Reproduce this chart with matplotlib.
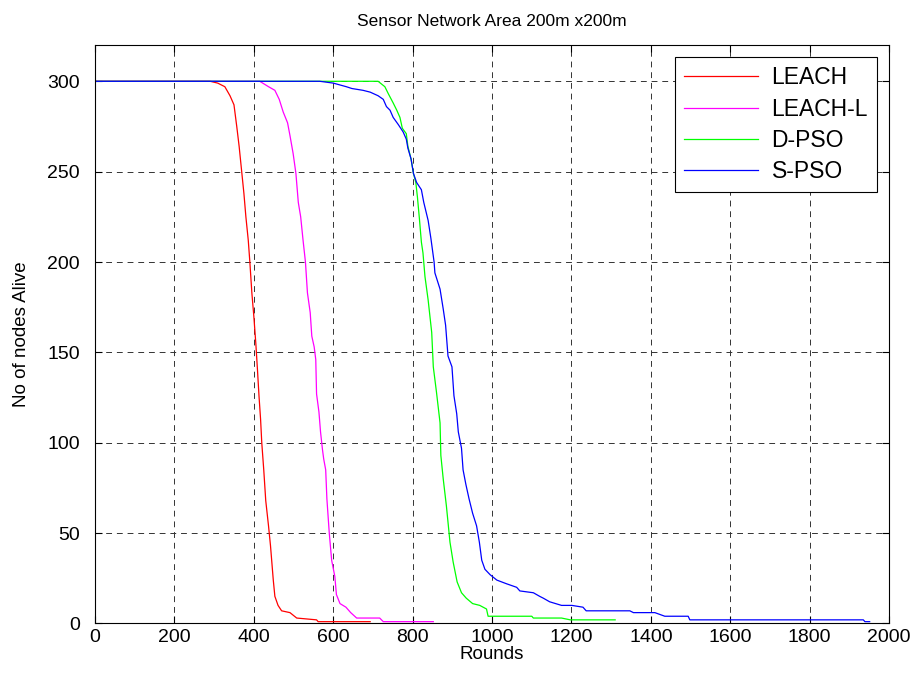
import matplotlib
matplotlib.use("Agg")
import matplotlib.pyplot as plt

plt.rcParams['font.family'] = ['Liberation Sans', 'DejaVu Sans']

# rounds / nodes alive
leach_r = [0, 290, 309, 327, 340, 350, 357, 363, 369, 375, 380, 386, 390, 395, 400, 405, 409,
           413, 417, 420, 423, 425, 430, 437, 442, 449, 453, 461, 470, 491, 508, 558, 562, 693]
leach_a = [300, 300, 299, 297, 292, 287, 275, 264, 251, 238, 225, 212, 200, 183, 170, 155, 141,
           126, 113, 100, 91, 85, 68, 54, 43, 24, 15, 10, 7, 6, 3, 2, 1, 1]

leachl_r = [0, 415, 437, 453, 464, 474, 485, 491, 499, 506, 512, 518, 524, 530, 535, 542, 546,
            552, 556, 558, 564, 568, 573, 576, 581, 584, 590, 596, 604, 608, 617, 632, 644, 659,
            717, 726, 852]
leachl_a = [300, 300, 297, 295, 290, 283, 277, 270, 260, 249, 233, 225, 212, 200, 183, 172, 159,
            153, 146, 127, 117, 106, 96, 91, 85, 69, 50, 35, 26, 16, 11, 9, 6, 3,
            3, 1, 1]

dpso_r = [0, 713, 730, 739, 751, 760, 768, 774, 784, 788, 796, 802, 808, 812, 817, 822, 826,
          831, 839, 848, 852, 860, 869, 871, 877, 885, 894, 902, 912, 923, 935, 951, 969, 986,
          990, 1100, 1104, 1175, 1197, 1310]
dpso_a = [300, 300, 297, 293, 288, 284, 280, 274, 271, 264, 257, 249, 244, 236, 224, 211, 205,
          192, 179, 161, 142, 128, 111, 93, 80, 65, 45, 34, 23, 17, 14, 11, 10, 8,
          4, 4, 3, 3, 2, 2]

spso_r = [0, 566, 600, 633, 647, 675, 693, 713, 726, 734, 743, 751, 764, 776, 784, 788, 796,
          802, 810, 822, 828, 839, 846, 854, 856, 869, 877, 883, 889, 899, 904, 911, 915, 923,
          927, 934, 942, 951, 961, 968, 974, 982, 995, 1012, 1036, 1062, 1070, 1104, 1120, 1129,
          1145, 1175, 1201, 1229, 1237, 1347, 1356, 1410, 1435, 1494, 1498, 1935, 1939, 1951]
spso_a = [300, 300, 299, 297, 296, 295, 294, 292, 290, 286, 284, 280, 276, 272, 268, 263, 257,
          249, 244, 240, 233, 223, 213, 200, 194, 185, 174, 165, 148, 142, 126, 116, 106, 97,
          85, 77, 69, 61, 54, 45, 35, 30, 27, 24, 22, 20, 18, 17, 15, 14,
          12, 10, 10, 9, 7, 7, 6, 6, 4, 4, 2, 2, 1, 1]

x_ticks = [0, 200, 400, 600, 800, 1000, 1200, 1400, 1600, 1800, 2000]
y_ticks = [0, 50, 100, 150, 200, 250, 300]

fig = plt.figure(figsize=(9.17, 6.84), dpi=100)
ax = fig.add_axes([0.1036, 0.0885, 0.866, 0.8455])

ax.plot(leach_r, leach_a, color='#ff0000', lw=0.9, label='LEACH')
ax.plot(leachl_r, leachl_a, color='#ff00ff', lw=0.9, label='LEACH-L')
ax.plot(dpso_r, dpso_a, color='#00ff00', lw=0.9, label='D-PSO')
ax.plot(spso_r, spso_a, color='#0000ff', lw=0.9, label='S-PSO')

ax.set_xlim(0, 2000)
ax.set_ylim(0, 320)
ax.set_xticks(x_ticks)
ax.set_yticks(y_ticks)
ax.grid(True, color='#333333', linestyle=(0, (6, 5)), linewidth=0.7)
ax.tick_params(direction='in', top=True, right=True, length=5, labelsize=14, width=0.8)
ax.tick_params(axis='y', pad=11)
ax.tick_params(axis='x', pad=4)
for s in ax.spines.values():
    s.set_linewidth(0.8)

ax.set_title('Sensor Network Area 200m x200m', fontsize=12.5, pad=14)
ax.set_xlabel('Rounds', fontsize=13.5, labelpad=0)
ax.set_ylabel('No of nodes Alive', fontsize=13.5, labelpad=12)

leg = ax.legend(loc='upper right', bbox_to_anchor=(0.985, 0.979), fontsize=16.5,
                fancybox=False, edgecolor='black', framealpha=1, handlelength=3.2,
                handletextpad=0.6, borderpad=0.4, borderaxespad=0, labelspacing=0.36)
leg.get_frame().set_linewidth(0.8)

fig.savefig('out.png', dpi=100)
